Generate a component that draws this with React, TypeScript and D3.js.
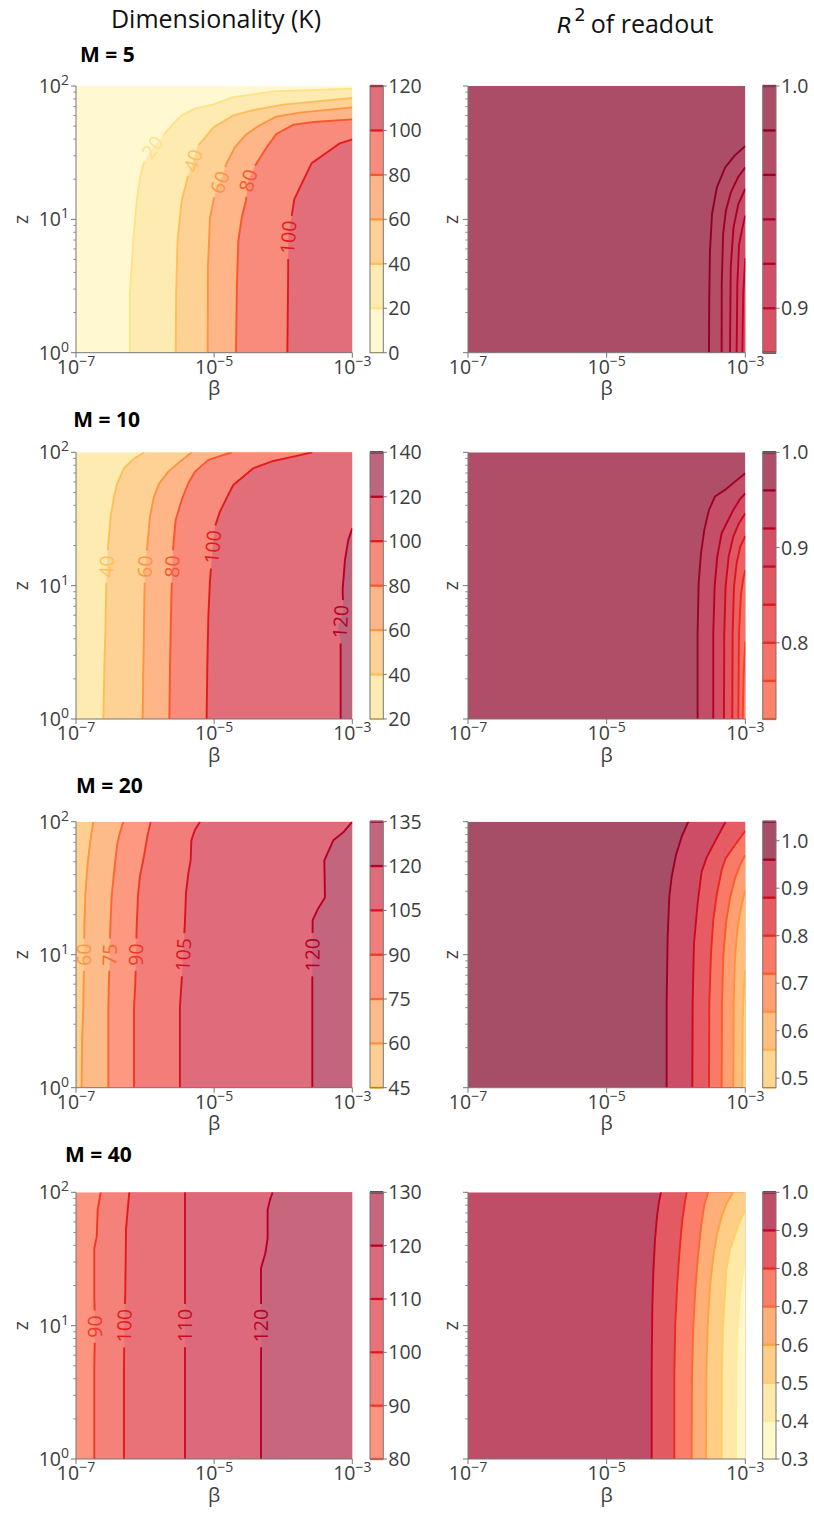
import React from "react";
import * as d3 from "d3";

type Pt = [number, number];
interface CLine {
  level: number;
  pts: Pt[]; // [log10 beta, log10 z]
  label?: Pt;
}

// ---------------- data ----------------
const rowNames = ["M = 5", "M = 10", "M = 20", "M = 40"];
const betaTicks = [1e-7, 1e-5, 1e-3];

// Dimensionality (K)
const kLevels5 = [0, 20, 40, 60, 80, 100, 120];
const kLines5: CLine[] = [
  { level: 20, label: [-5.89, 1.54], pts: [[-6.22, 0], [-6.22, 0.44], [-6.17, 0.84], [-6.12, 1.14], [-6.07, 1.32], [-6.016, 1.43], [-5.89, 1.54], [-5.76, 1.617], [-5.59, 1.717], [-5.47, 1.78], [-5.28, 1.83], [-5.01, 1.862], [-4.72, 1.917], [-4.14, 1.96], [-3, 1.98]] },
  { level: 40, label: [-5.3, 1.44], pts: [[-5.557, 0], [-5.55, 0.44], [-5.53, 0.84], [-5.47, 1.14], [-5.37, 1.34], [-5.3, 1.44], [-5.25, 1.54], [-5.01, 1.69], [-4.72, 1.78], [-4.43, 1.82], [-4.0, 1.86], [-3, 1.91]] },
  { level: 60, label: [-4.916, 1.278], pts: [[-5.094, 0], [-5.09, 0.64], [-5.06, 1.015], [-4.99, 1.19], [-4.916, 1.278], [-4.82, 1.42], [-4.7, 1.54], [-4.55, 1.63], [-4.36, 1.7], [-4.1, 1.77], [-3.76, 1.8], [-3, 1.84]] },
  { level: 80, label: [-4.505, 1.291], pts: [[-4.684, 0], [-4.67, 0.51], [-4.65, 0.84], [-4.6, 1.015], [-4.54, 1.14], [-4.505, 1.291], [-4.41, 1.4], [-4.24, 1.54], [-4.1, 1.64], [-3.85, 1.71], [-3.56, 1.73], [-3, 1.75]] },
  { level: 100, label: [-3.926, 0.865], pts: [[-3.94, 0], [-3.93, 0.51], [-3.926, 0.865], [-3.84, 1.15], [-3.73, 1.27], [-3.59, 1.42], [-3.4, 1.49], [-3.18, 1.57], [-3, 1.6]] },
];

const kLevels10 = [20, 40, 60, 80, 100, 120, 140];
const kLines10: CLine[] = [
  { level: 40, label: [-6.556, 1.143], pts: [[-6.604, 0], [-6.59, 0.393], [-6.575, 0.643], [-6.566, 0.893], [-6.556, 1.143], [-6.532, 1.318], [-6.498, 1.518], [-6.45, 1.668], [-6.402, 1.768], [-6.305, 1.88], [-6.17, 1.948], [-6.016, 2]] },
  { level: 60, label: [-6.0, 1.143], pts: [[-6.035, 0], [-6.025, 0.393], [-6.016, 0.643], [-6.011, 0.893], [-6.0, 1.143], [-5.967, 1.305], [-5.929, 1.518], [-5.871, 1.668], [-5.794, 1.768], [-5.663, 1.855], [-5.495, 1.93], [-5.326, 2]] },
  { level: 80, label: [-5.606, 1.143], pts: [[-5.649, 0], [-5.639, 0.393], [-5.63, 0.643], [-5.62, 0.893], [-5.606, 1.143], [-5.591, 1.305], [-5.557, 1.493], [-5.47, 1.643], [-5.374, 1.768], [-5.277, 1.855], [-5.084, 1.943], [-4.747, 2]] },
  { level: 100, label: [-5.02, 1.29], pts: [[-5.109, 0], [-5.099, 0.393], [-5.084, 0.768], [-5.06, 1.043], [-5.02, 1.29], [-4.988, 1.443], [-4.916, 1.555], [-4.809, 1.668], [-4.723, 1.755], [-4.433, 1.88], [-4.144, 1.935], [-3.854, 1.968], [-3.579, 2]] },
  { level: 120, label: [-3.17, 0.73], pts: [[-3.169, 0], [-3.169, 0.593], [-3.21, 0.68], [-3.13, 0.8], [-3.14, 0.968], [-3.106, 1.193], [-3.058, 1.343], [-3, 1.43]] },
];

const kLevels20 = [45, 60, 75, 90, 105, 120, 135];
const kLines20: CLine[] = [
  { level: 60, label: [-6.884, 1.0], pts: [[-6.918, 0], [-6.91, 0.38], [-6.894, 0.61], [-6.884, 1.0], [-6.879, 1.21], [-6.865, 1.44], [-6.836, 1.66], [-6.797, 1.84], [-6.749, 2]] },
  { level: 75, label: [-6.513, 1.0], pts: [[-6.532, 0], [-6.532, 0.61], [-6.513, 1.0], [-6.503, 1.21], [-6.484, 1.44], [-6.435, 1.69], [-6.4, 1.84], [-6.363, 1.92], [-6.315, 2]] },
  { level: 90, label: [-6.131, 1.0], pts: [[-6.16, 0], [-6.16, 0.61], [-6.141, 0.785], [-6.131, 1.0], [-6.122, 1.21], [-6.103, 1.44], [-6.074, 1.59], [-6.016, 1.74], [-5.967, 1.89], [-5.919, 2]] },
  { level: 105, label: [-5.446, 1.0], pts: [[-5.495, 0], [-5.495, 0.61], [-5.47, 0.81], [-5.446, 1.0], [-5.422, 1.26], [-5.408, 1.46], [-5.374, 1.61], [-5.34, 1.71], [-5.33, 1.86], [-5.277, 1.94], [-5.205, 2]] },
  { level: 120, label: [-3.576, 1.0], pts: [[-3.579, 0], [-3.579, 0.78], [-3.576, 1.0], [-3.574, 1.26], [-3.492, 1.35], [-3.396, 1.43], [-3.405, 1.71], [-3.275, 1.86], [-3.13, 1.92], [-3, 2]] },
];

const kLevels40 = [80, 90, 100, 110, 120, 130];
const kLines40: CLine[] = [
  { level: 90, label: [-6.725, 0.993], pts: [[-6.735, 0], [-6.735, 0.693], [-6.725, 0.993], [-6.735, 1.205], [-6.735, 1.58], [-6.7, 1.668], [-6.686, 1.868], [-6.643, 2]] },
  { level: 100, label: [-6.3, 1.0], pts: [[-6.305, 0], [-6.305, 0.655], [-6.3, 1.0], [-6.286, 1.255], [-6.276, 1.718], [-6.252, 1.868], [-6.228, 2]] },
  { level: 110, label: [-5.422, 1.0], pts: [[-5.422, 0], [-5.422, 1.0], [-5.422, 2]] },
  { level: 120, label: [-4.317, 1.0], pts: [[-4.322, 0], [-4.322, 0.718], [-4.317, 1.0], [-4.322, 1.255], [-4.322, 1.43], [-4.259, 1.543], [-4.226, 1.655], [-4.226, 1.868], [-4.192, 1.943], [-4.153, 2]] },
];

// R^2 of readout
const rLevels5 = [0.88, 0.9, 0.92, 0.94, 0.96, 0.98, 1.0];
const rTicks5 = [0.9, 1.0];
const rLines5: CLine[] = [
  { level: 0.98, pts: [[-3.524, 0], [-3.52, 0.39], [-3.51, 0.76], [-3.48, 1.04], [-3.41, 1.24], [-3.29, 1.39], [-3.15, 1.48], [-3, 1.55]] },
  { level: 0.96, pts: [[-3.341, 0], [-3.34, 0.51], [-3.32, 0.89], [-3.28, 1.065], [-3.21, 1.2], [-3.1, 1.32], [-3, 1.39]] },
  { level: 0.94, pts: [[-3.221, 0], [-3.21, 0.64], [-3.17, 0.94], [-3.1, 1.115], [-3, 1.23]] },
  { level: 0.92, pts: [[-3.125, 0], [-3.115, 0.51], [-3.09, 0.81], [-3.04, 0.94], [-3, 1.03]] },
  { level: 0.9, pts: [[-3.043, 0], [-3.03, 0.44], [-3, 0.71]] },
];

const rLevels10 = [0.72, 0.76, 0.8, 0.84, 0.88, 0.92, 0.96, 1.0];
const rTicks10 = [0.8, 0.9, 1.0];
const rLines10: CLine[] = [
  { level: 0.96, pts: [[-3.688, 0], [-3.688, 0.643], [-3.673, 1.018], [-3.639, 1.243], [-3.591, 1.418], [-3.524, 1.568], [-3.438, 1.668], [-3.293, 1.718], [-3.149, 1.78], [-3, 1.843]] },
  { level: 0.92, pts: [[-3.462, 0], [-3.462, 0.643], [-3.442, 0.993], [-3.404, 1.218], [-3.341, 1.393], [-3.269, 1.468], [-3.173, 1.568], [-3.077, 1.648], [-3, 1.693]] },
  { level: 0.88, pts: [[-3.308, 0], [-3.303, 0.643], [-3.284, 0.993], [-3.24, 1.218], [-3.173, 1.368], [-3.091, 1.468], [-3, 1.543]] },
  { level: 0.84, pts: [[-3.188, 0], [-3.183, 0.643], [-3.163, 0.993], [-3.125, 1.168], [-3.072, 1.293], [-3, 1.373]] },
  { level: 0.8, pts: [[-3.101, 0], [-3.091, 0.643], [-3.063, 0.93], [-3.029, 1.055], [-3, 1.118]] },
  { level: 0.76, pts: [[-3.038, 0], [-3.024, 0.343], [-3, 0.58]] },
];

const rLevels20 = [0.48, 0.56, 0.64, 0.72, 0.8, 0.88, 0.96, 1.04];
const rTicks20 = [0.5, 0.6, 0.7, 0.8, 0.9, 1.0];
const rLines20: CLine[] = [
  { level: 0.96, pts: [[-4.135, 0], [-4.135, 0.634], [-4.12, 1.135], [-4.096, 1.436], [-4.062, 1.586], [-4.0, 1.75], [-3.918, 1.887], [-3.822, 2]] },
  { level: 0.88, pts: [[-3.764, 0], [-3.76, 0.634], [-3.74, 1.085], [-3.688, 1.386], [-3.63, 1.624], [-3.558, 1.73], [-3.438, 1.85], [-3.284, 2]] },
  { level: 0.8, pts: [[-3.524, 0], [-3.519, 0.634], [-3.495, 1.01], [-3.462, 1.26], [-3.409, 1.46], [-3.341, 1.637], [-3.284, 1.724], [-3.149, 1.825], [-3, 1.932]] },
  { level: 0.72, pts: [[-3.341, 0], [-3.337, 0.634], [-3.317, 0.985], [-3.279, 1.236], [-3.221, 1.424], [-3.149, 1.574], [-3.077, 1.674], [-3, 1.749]] },
  { level: 0.64, pts: [[-3.173, 0], [-3.168, 0.634], [-3.149, 0.985], [-3.106, 1.223], [-3.053, 1.373], [-3, 1.486]] },
  { level: 0.56, pts: [[-3.043, 0], [-3.038, 0.509], [-3.019, 0.759], [-3, 0.885]] },
];

const rLevels40 = [0.3, 0.4, 0.5, 0.6, 0.7, 0.8, 0.9, 1.0];
const rTicks40 = [0.3, 0.4, 0.5, 0.6, 0.7, 0.8, 0.9, 1.0];
const rLines40: CLine[] = [
  { level: 0.9, pts: [[-4.351, 0], [-4.351, 0.643], [-4.341, 1.143], [-4.327, 1.393], [-4.303, 1.643], [-4.274, 1.818], [-4.245, 1.93], [-4.216, 2]] },
  { level: 0.8, pts: [[-4.024, 0], [-4.024, 0.643], [-4.01, 1.018], [-3.981, 1.318], [-3.947, 1.568], [-3.909, 1.793], [-3.87, 1.93], [-3.846, 2]] },
  { level: 0.7, pts: [[-3.774, 0], [-3.769, 0.643], [-3.75, 0.993], [-3.721, 1.268], [-3.683, 1.518], [-3.635, 1.755], [-3.591, 1.905], [-3.534, 2]] },
  { level: 0.6, pts: [[-3.567, 0], [-3.562, 0.643], [-3.543, 0.993], [-3.51, 1.293], [-3.462, 1.518], [-3.404, 1.693], [-3.341, 1.818], [-3.269, 1.918], [-3.173, 2]] },
  { level: 0.5, pts: [[-3.341, 0], [-3.337, 0.643], [-3.322, 0.993], [-3.293, 1.243], [-3.274, 1.418], [-3.221, 1.568], [-3.149, 1.68], [-3.077, 1.785], [-3, 1.868]] },
  { level: 0.4, pts: [[-3.135, 0], [-3.13, 0.643], [-3.111, 0.993], [-3.077, 1.218], [-3.043, 1.368], [-3, 1.475]] },
];

// ---------------- style / layout ----------------
const W = 814;
const H = 1513;
const FONT = "'Open Sans', sans-serif";
const AXIS = "#777";
const TXT = "#3d3d3d";
const FS = 19.5; // tick / label font size

const ylOrRd = ["#ffffcc", "#ffeda0", "#fed976", "#feb24c", "#fd8d3c", "#fc4e2a", "#e31a1c", "#bd0026", "#800026"];
const cmap = d3
  .scaleLinear<string>()
  .domain(d3.range(9).map((i) => i / 8))
  .range(ylOrRd)
  .interpolate(d3.interpolateRgb)
  .clamp(true);

// fills and lines are coloured on slightly different ranges
const kFillNorm = d3.scaleLinear().domain([0, 135]).range([0, 1]);
const kLineNorm = d3.scaleLinear().domain([-8, 136]).range([0, 1]);
const rFillNorm = d3.scaleLinear().domain([0.3, 1.0]).range([0, 1]);
const rLineNorm = d3.scaleLinear().domain([0.3, 1.0]).range([0, 1]);

const leftCol = { x0: 76, x1: 352.3, cbx0: 370, cbx1: 383.3, zX: 21 };
const rightCol = { x0: 468, x1: 745.3, cbx0: 762.7, cbx1: 776, zX: 451 };
const rowY: [number, number][] = [[86, 352.7], [452.3, 719], [821.7, 1087.7], [1192.3, 1459]];
const rowTitlePos: [number, number][] = [[80, 61.7], [73.3, 426.7], [76, 793.3], [65, 1161.7]];

const kPanels = [
  { levels: kLevels5, lines: kLines5 },
  { levels: kLevels10, lines: kLines10 },
  { levels: kLevels20, lines: kLines20 },
  { levels: kLevels40, lines: kLines40 },
];
const rPanels = [
  { levels: rLevels5, lines: rLines5, ticks: rTicks5 },
  { levels: rLevels10, lines: rLines10, ticks: rTicks10 },
  { levels: rLevels20, lines: rLines20, ticks: rTicks20 },
  { levels: rLevels40, lines: rLines40, ticks: rTicks40 },
];

// angle of a polyline around the point closest to p, over +-half px
function labelAngle(pts: [number, number][], p: [number, number], half: number) {
  const cum = [0];
  for (let i = 1; i < pts.length; i++) {
    cum.push(cum[i - 1] + Math.hypot(pts[i][0] - pts[i - 1][0], pts[i][1] - pts[i - 1][1]));
  }
  let best = { s: 0, d: Infinity };
  for (let i = 1; i < pts.length; i++) {
    const [ax, ay] = pts[i - 1];
    const [bx, by] = pts[i];
    const L2 = (bx - ax) ** 2 + (by - ay) ** 2 || 1e-9;
    const t = Math.max(0, Math.min(1, ((p[0] - ax) * (bx - ax) + (p[1] - ay) * (by - ay)) / L2));
    const d = Math.hypot(ax + t * (bx - ax) - p[0], ay + t * (by - ay) - p[1]);
    if (d < best.d) best = { s: cum[i - 1] + t * Math.sqrt(L2), d };
  }
  const total = cum[cum.length - 1];
  const at = (s: number): [number, number] => {
    s = Math.max(0, Math.min(total, s));
    let i = 1;
    while (i < pts.length - 1 && cum[i] < s) i++;
    const seg = cum[i] - cum[i - 1] || 1e-9;
    const t = (s - cum[i - 1]) / seg;
    return [pts[i - 1][0] + t * (pts[i][0] - pts[i - 1][0]), pts[i - 1][1] + t * (pts[i][1] - pts[i - 1][1])];
  };
  const a = at(best.s - half);
  const b = at(best.s + half);
  let ang = (Math.atan2(b[1] - a[1], b[0] - a[0]) * 180) / Math.PI;
  // keep near-vertical labels reading bottom to top
  if (ang < -105) ang += 180;
  if (ang >= 75) ang -= 180;
  return ang;
}

function Sup({ x, y, exp, anchor }: { x: number; y: number; exp: number; anchor: string }) {
  return (
    <text x={x} y={y} textAnchor={anchor} fontSize={FS} fill={TXT} fontFamily={FONT}>
      <tspan>10</tspan>
      <tspan dy={-8} fontSize={14}>
        {exp < 0 ? "\u2212" + Math.abs(exp) : String(exp)}
      </tspan>
    </text>
  );
}

interface PanelProps {
  id: string;
  col: typeof leftCol;
  y0: number;
  y1: number;
  levels: number[];
  lines: CLine[];
  increasing: boolean;
  fillNorm: d3.ScaleLinear<number, number>;
  lineNorm: d3.ScaleLinear<number, number>;
  alpha: number;
  cbTicks: number[];
  cbFmt: (v: number) => string;
  yLabels: boolean;
}

function Panel({ id, col, y0, y1, levels, lines, increasing, fillNorm, lineNorm, alpha, cbTicks, cbFmt, yLabels }: PanelProps) {
  const { x0, x1, cbx0, cbx1, zX } = col;
  const xs = d3.scaleLog().domain([1e-7, 1e-3]).range([x0, x1]);
  const ys = d3.scaleLog().domain([1, 100]).range([y1, y0]);
  const px = (p: Pt): [number, number] => [xs(10 ** p[0]), ys(10 ** p[1])];
  const idx = (v: number) => d3.minIndex(levels, (l) => Math.abs(l - v));
  const bandColor = (lo: number, hi: number) => d3.interpolateRgb("#ffffff", cmap(fillNorm((lo + hi) / 2)))(alpha);
  const lineColor = (v: number) => cmap(lineNorm(v));

  const i0 = idx(lines[0].level);
  const base = increasing ? [levels[i0 - 1], levels[i0]] : [levels[i0], levels[i0 + 1]];

  const regions = lines.map((l) => {
    const i = idx(l.level);
    const band = increasing ? [levels[i], levels[i + 1]] : [levels[i - 1], levels[i]];
    const last = l.pts[l.pts.length - 1];
    const poly = [...l.pts, [-3, last[1]] as Pt, [-3, 0] as Pt].map(px);
    return { d: "M" + poly.map((q) => q.join(",")).join("L") + "Z", fill: bandColor(band[0], band[1]) };
  });

  const lineGen = d3.line<Pt>().x((p) => xs(10 ** p[0])).y((p) => ys(10 ** p[1]));

  const labels = lines
    .filter((l) => l.label)
    .map((l) => {
      const text = String(l.level);
      const p = px(l.label as Pt);
      const w = text.length * 0.57 * FS;
      const ang = labelAngle(l.pts.map(px), p, w / 2 + 4);
      return { text, x: p[0], y: p[1], w, ang, color: lineColor(l.level) };
    });

  const cy = d3.scaleLinear().domain([levels[0], levels[levels.length - 1]]).range([y1, y0]);
  const yTicks = ys.ticks();

  return (
    <g>
      <defs>
        <clipPath id={`clip-${id}`}>
          <rect x={x0} y={y0} width={x1 - x0} height={y1 - y0} />
        </clipPath>
        <mask id={`mask-${id}`} maskUnits="userSpaceOnUse" x={0} y={0} width={W} height={H}>
          <rect x={0} y={0} width={W} height={H} fill="white" />
          {labels.map((lb, i) => (
            <rect
              key={i}
              x={-lb.w / 2 - 5}
              y={-10}
              width={lb.w + 10}
              height={20}
              fill="black"
              transform={`translate(${lb.x},${lb.y}) rotate(${lb.ang})`}
            />
          ))}
        </mask>
      </defs>

      {/* filled contours */}
      <g clipPath={`url(#clip-${id})`}>
        <rect x={x0} y={y0} width={x1 - x0} height={y1 - y0} fill={bandColor(base[0], base[1])} />
        {regions.map((r, i) => (
          <path key={i} d={r.d} fill={r.fill} />
        ))}
        <g mask={`url(#mask-${id})`}>
          {lines.map((l, i) => (
            <path key={i} d={lineGen(l.pts) || ""} fill="none" stroke={lineColor(l.level)} strokeWidth={1.9} strokeLinejoin="round" />
          ))}
        </g>
      </g>
      {labels.map((lb, i) => (
        <text
          key={i}
          transform={`translate(${lb.x},${lb.y}) rotate(${lb.ang})`}
          textAnchor="middle"
          dy="0.36em"
          fontSize={FS}
          fontFamily={FONT}
          fill={lb.color}
        >
          {lb.text}
        </text>
      ))}

      {/* axes */}
      <line x1={x0} x2={x0} y1={y0} y2={y1} stroke={AXIS} strokeWidth={1} />
      <line x1={x0} x2={x1} y1={y1} y2={y1} stroke={AXIS} strokeWidth={1} />
      {yTicks.map((t, i) => {
        const major = Math.abs(Math.log10(t) - Math.round(Math.log10(t))) < 1e-9;
        return (
          <line key={i} x1={x0} x2={x0 - (major ? 5 : 2.8)} y1={ys(t)} y2={ys(t)} stroke={AXIS} strokeWidth={major ? 1 : 0.8} />
        );
      })}
      {yLabels &&
        [1, 10, 100].map((t) => <Sup key={t} x={x0 - 7} y={ys(t) + 7} exp={Math.round(Math.log10(t))} anchor="end" />)}
      {betaTicks.map((t) => (
        <g key={t}>
          <line x1={xs(t)} x2={xs(t)} y1={y1} y2={y1 + 5} stroke={AXIS} strokeWidth={1} />
          <Sup x={xs(t)} y={y1 + 21} exp={Math.round(Math.log10(t))} anchor="middle" />
        </g>
      ))}
      <text x={(x0 + x1) / 2} y={y1 + 42.5} textAnchor="middle" fontSize={FS} fontFamily={FONT} fill={TXT}>
        β
      </text>
      <text
        transform={`translate(${zX},${(y0 + y1) / 2}) rotate(-90)`}
        textAnchor="middle"
        dy="0.35em"
        fontSize={FS}
        fontFamily={FONT}
        fill={TXT}
      >
        z
      </text>

      {/* colorbar */}
      {levels.slice(0, -1).map((l, i) => (
        <rect
          key={i}
          x={cbx0}
          y={cy(levels[i + 1])}
          width={cbx1 - cbx0}
          height={cy(l) - cy(levels[i + 1])}
          fill={bandColor(l, levels[i + 1])}
        />
      ))}
      {levels.map((l, i) => (
        <line key={i} x1={cbx0} x2={cbx1} y1={cy(l)} y2={cy(l)} stroke={lineColor(l)} strokeWidth={2.3} />
      ))}
      <rect x={cbx0} y={y0} width={cbx1 - cbx0} height={y1 - y0} fill="none" stroke={AXIS} strokeWidth={1} />
      {cbTicks.map((t, i) => (
        <g key={i}>
          <line x1={cbx1} x2={cbx1 + 3.5} y1={cy(t)} y2={cy(t)} stroke={AXIS} strokeWidth={1} />
          <text x={cbx1 + 5} y={cy(t) + 7} fontSize={FS} fontFamily={FONT} fill={TXT}>
            {cbFmt(t)}
          </text>
        </g>
      ))}
    </g>
  );
}

export default function App() {
  const fmtInt = d3.format("d");
  const fmt1 = d3.format(".1f");
  return (
    <svg width={W} height={H} style={{ position: "absolute", left: 0, top: 0, background: "#fff" }}>
      <rect x={0} y={0} width={W} height={H} fill="#fff" />
      <text x={216} y={28.3} textAnchor="middle" fontSize={25} fontFamily={FONT} fill="#111">
        Dimensionality (K)
      </text>
      <text x={557} y={33} fontFamily={FONT} fill="#111">
        <tspan fontFamily="'DejaVu Sans', sans-serif" fontStyle="italic" fontSize={22}>
          R
        </tspan>
        <tspan dy={-12} dx={2} fontFamily="'DejaVu Sans', sans-serif" fontSize={18}>
          2
        </tspan>
        <tspan dy={12} dx={5} fontSize={25}>
          of readout
        </tspan>
      </text>

      {rowNames.map((name, r) => (
        <text key={name} x={rowTitlePos[r][0]} y={rowTitlePos[r][1]} fontSize={21} fontWeight="bold" fontFamily={FONT} fill="#000">
          {name}
        </text>
      ))}

      {kPanels.map((p, r) => (
        <Panel
          key={"k" + r}
          id={"k" + r}
          col={leftCol}
          y0={rowY[r][0]}
          y1={rowY[r][1]}
          levels={p.levels}
          lines={p.lines}
          increasing={true}
          fillNorm={kFillNorm}
          lineNorm={kLineNorm}
          alpha={0.6}
          cbTicks={p.levels}
          cbFmt={fmtInt}
          yLabels={true}
        />
      ))}
      {rPanels.map((p, r) => (
        <Panel
          key={"r" + r}
          id={"r" + r}
          col={rightCol}
          y0={rowY[r][0]}
          y1={rowY[r][1]}
          levels={p.levels}
          lines={p.lines}
          increasing={false}
          fillNorm={rFillNorm}
          lineNorm={rLineNorm}
          alpha={0.7}
          cbTicks={p.ticks}
          cbFmt={fmt1}
          yLabels={false}
        />
      ))}
    </svg>
  );
}
